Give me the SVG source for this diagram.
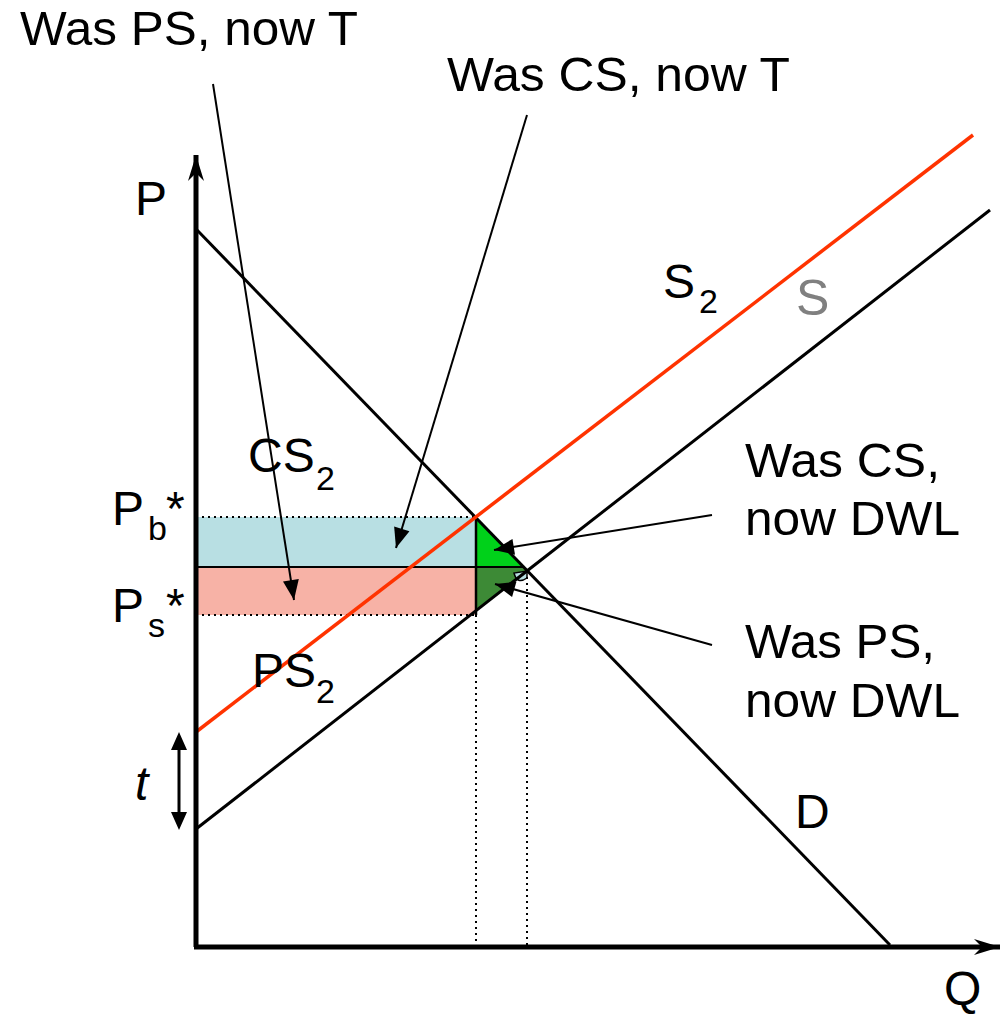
<svg xmlns="http://www.w3.org/2000/svg" width="1003" height="1014" viewBox="0 0 1003 1014">
<style>
text{font-family:"Liberation Sans",Arial,sans-serif;font-size:48px;fill:#000}
.sub{font-size:34px}
.ln{stroke:#000;stroke-width:3;fill:none}
.ptr{stroke:#000;stroke-width:2;fill:none;marker-end:url(#ah)}
.dot{stroke:#000;stroke-width:2;stroke-dasharray:2 4;fill:none}
</style>
<defs>
<marker id="ah" markerUnits="userSpaceOnUse" markerWidth="22" markerHeight="20" viewBox="-21 -9 22 18" refX="0" refY="0" orient="auto">
<path d="M0,0 L-20,-8 L-20,8 Z" fill="#000"/>
</marker>
<marker id="ax" markerUnits="userSpaceOnUse" markerWidth="28" markerHeight="18" viewBox="-26 -9 28 18" refX="0" refY="0" orient="auto">
<path d="M0,0 L-26,-8 L-18,0 L-26,8 Z" fill="#000"/>
</marker>
</defs>

<g id="areas">
<rect x="196" y="517" width="280" height="50" fill="#b8dfe3"/>
<rect x="196" y="567" width="280" height="48" fill="#f7b2a6"/>
<polygon points="476,517 476,567 524,567" fill="#00d11a"/>
<polygon points="476,567 524,567 527,571 476,610" fill="#3d8a36"/>
<path d="M514,573 Q517,585 527,578 L527,571 Z" fill="#b8dfe3" stroke="#000" stroke-width="1.5"/>
<line x1="196" y1="517" x2="476" y2="517" class="dot"/>
<line x1="196" y1="615" x2="476" y2="615" class="dot"/>
<line x1="196" y1="567" x2="524" y2="567" stroke="#000" stroke-width="2"/>
<line x1="476" y1="517" x2="476" y2="615" stroke="#000" stroke-width="2.5"/>
<line x1="476" y1="615" x2="476" y2="945" class="dot"/>
<line x1="527" y1="571" x2="527" y2="945" class="dot"/>
</g>

<g id="curves">
<line id="demand" x1="197" y1="230" x2="890" y2="945" class="ln"/>
<line id="supply" x1="196" y1="829" x2="990" y2="210" class="ln"/>
<line id="supply2" x1="196" y1="732" x2="973" y2="135" stroke="#ff3300" stroke-width="3.5"/>
</g>

<g id="axes">
<line x1="196" y1="947" x2="196" y2="155" stroke="#000" stroke-width="5" marker-end="url(#ax)"/>
<line x1="194" y1="947" x2="1000" y2="947" stroke="#000" stroke-width="5" marker-end="url(#ax)"/>
<line x1="179" y1="750" x2="179" y2="812" stroke="#000" stroke-width="3"/>
<path d="M179,732 L171,750 L187,750 Z M179,830 L171,812 L187,812 Z" fill="#000"/>
</g>

<g id="connectors">
<line x1="213" y1="84" x2="294" y2="600" class="ptr"/>
<line x1="527" y1="115" x2="396" y2="548" class="ptr"/>
<line x1="712" y1="515" x2="494" y2="550" class="ptr"/>
<line x1="712" y1="645" x2="495" y2="584" class="ptr"/>
</g>

<g id="labels">
<text x="20" y="45" textLength="338" lengthAdjust="spacingAndGlyphs">Was PS, now T</text>
<text x="447" y="91" textLength="343" lengthAdjust="spacingAndGlyphs">Was CS, now T</text>
<text x="135" y="215">P</text>
<text x="663" y="298">S<tspan class="sub" x="699" y="313">2</tspan></text>
<text x="796" y="315" style="fill:#808080;font-size:50px">S</text>
<text x="248" y="472">CS<tspan class="sub" x="316" y="490">2</tspan></text>
<text x="745" y="477" textLength="195" lengthAdjust="spacingAndGlyphs">Was CS,</text>
<text x="745" y="535" textLength="215" lengthAdjust="spacingAndGlyphs">now DWL</text>
<text x="112" y="525">P<tspan class="sub" x="148" y="540">b</tspan><tspan x="166" y="525">*</tspan></text>
<text x="112" y="622">P<tspan class="sub" x="148" y="637">s</tspan><tspan x="166" y="622">*</tspan></text>
<text x="252" y="687">PS<tspan class="sub" x="316" y="703">2</tspan></text>
<text x="745" y="658" textLength="190" lengthAdjust="spacingAndGlyphs">Was PS,</text>
<text x="745" y="717" textLength="215" lengthAdjust="spacingAndGlyphs">now DWL</text>
<text x="135" y="800" style="font-style:italic">t</text>
<text x="795" y="828">D</text>
<text x="944" y="1005">Q</text>
</g>
</svg>
